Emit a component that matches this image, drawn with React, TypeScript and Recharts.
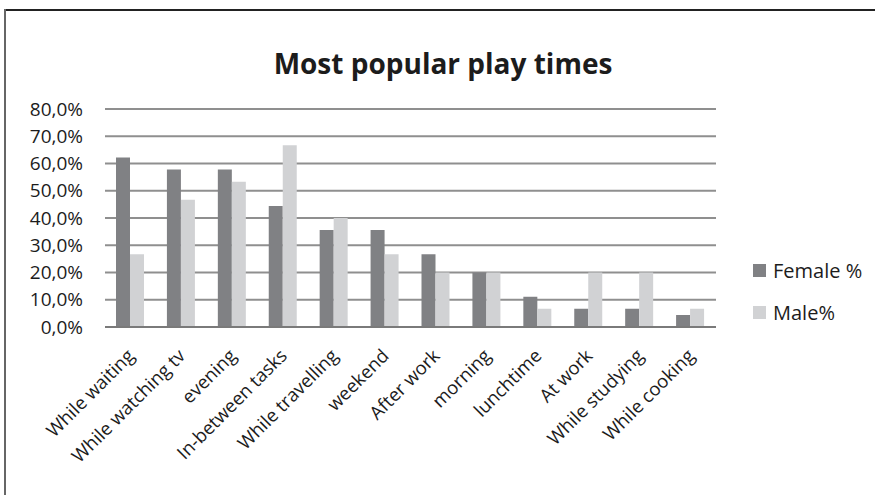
import { BarChart, Bar, XAxis, YAxis, CartesianGrid } from "recharts"

const categories = [
  "While waiting",
  "While watching tv",
  "evening",
  "In-between tasks",
  "While travelling",
  "weekend",
  "After work",
  "morning",
  "lunchtime",
  "At work",
  "While studying",
  "While cooking"
]

const femalePct = [62.2, 57.8, 57.8, 44.4, 35.6, 35.6, 26.7, 20.0, 11.1, 6.7, 6.7, 4.4]
const malePct = [26.7, 46.7, 53.3, 66.7, 40.0, 26.7, 20.0, 20.0, 6.7, 20.0, 20.0, 6.7]

const yTicks = [0, 10, 20, 30, 40, 50, 60, 70, 80]

const data = categories.map((name, i) => ({
  name,
  female: femalePct[i],
  male: malePct[i]
}))

const FEMALE = "#808184"
const MALE = "#d1d2d4"
const FONT = "'Open Sans', sans-serif"
const INK = "#1c1c1c"

const fmtPct = (v: number) => v.toFixed(1).replace(".", ",") + "%"

function XTick({ x, y, payload }: any) {
  return (
    <text
      x={x + 5}
      y={y + 28}
      transform={`rotate(-45, ${x + 5}, ${y + 28})`}
      textAnchor="end"
      fontSize={18.5}
      fontFamily={FONT}
      fill={INK}
    >
      {payload.value}
    </text>
  )
}

const legendItems = [
  { label: "Female %", color: FEMALE },
  { label: "Male%", color: MALE }
]

export default function App() {
  return (
    <div style={{ position: "relative", width: 875, height: 495, background: "#fff" }}>
      <style>{"body{margin:0}"}</style>
      <div
        style={{
          position: "absolute",
          left: 4,
          top: 9,
          right: 0,
          height: 2,
          background: "#222"
        }}
      />
      <div
        style={{
          position: "absolute",
          left: 4,
          top: 9,
          bottom: 0,
          width: 2,
          background: "#666"
        }}
      />
      <div
        style={{
          position: "absolute",
          left: 0,
          width: 886,
          top: 44,
          textAlign: "center",
          fontFamily: FONT,
          fontWeight: 700,
          fontSize: 28,
          color: INK
        }}
      >
        Most popular play times
      </div>
      <BarChart
        width={875}
        height={495}
        data={data}
        margin={{ top: 109, right: 159, bottom: 0, left: 0 }}
        barGap={0}
        barCategoryGap={11}
        style={{ position: "absolute", left: 0, top: 0 }}
      >
        <CartesianGrid
          vertical={false}
          stroke="#8f8f8f"
          strokeWidth={2}
        />
        <XAxis
          dataKey="name"
          interval={0}
          height={168}
          tickLine={false}
          tickSize={0}
          axisLine={{ stroke: "#7a7a7a", strokeWidth: 2 }}
          tick={<XTick />}
        />
        <YAxis
          width={105}
          domain={[0, 80]}
          ticks={yTicks}
          interval={0}
          tickFormatter={fmtPct}
          axisLine={false}
          tickLine={false}
          tickSize={0}
          tickMargin={22}
          tick={{ fontSize: 19, fontFamily: FONT, fill: INK }}
        />
        <Bar dataKey="female" name="Female %" fill={FEMALE} isAnimationActive={false} />
        <Bar dataKey="male" name="Male%" fill={MALE} isAnimationActive={false} />
      </BarChart>
      <div
        style={{
          position: "absolute",
          left: 753,
          top: 249,
          fontFamily: FONT,
          fontSize: 20,
          color: INK
        }}
      >
        {legendItems.map((it) => (
          <div
            key={it.label}
            style={{ display: "flex", alignItems: "center", height: 42 }}
          >
            <span
              style={{
                width: 13,
                height: 13,
                background: it.color,
                marginRight: 7,
                display: "inline-block"
              }}
            />
            {it.label}
          </div>
        ))}
      </div>
    </div>
  )
}
